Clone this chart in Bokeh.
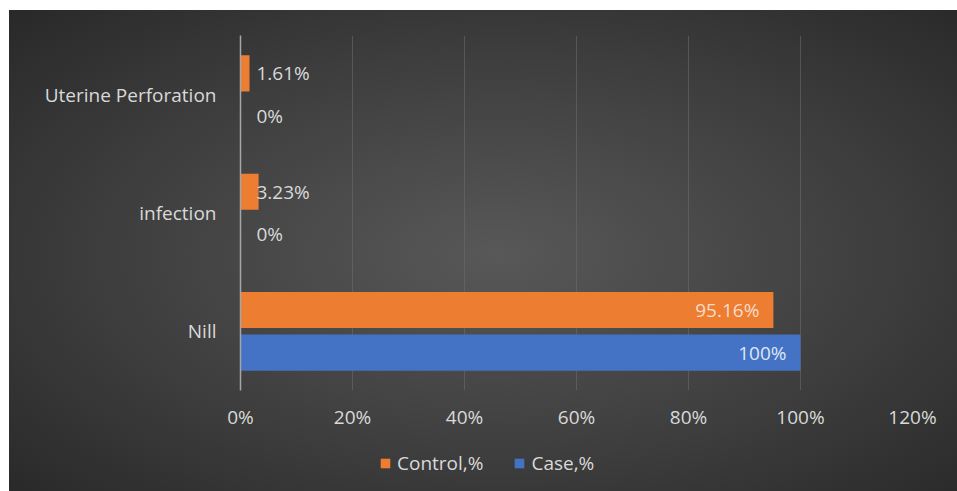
from bokeh.plotting import figure
from bokeh.layouts import column
from bokeh.models import (ColumnDataSource, FactorRange, FixedTicker, PrintfTickFormatter,
                          Legend, LegendItem, InlineStyleSheet, Range1d)
from bokeh.transform import dodge
from bokeh.core.properties import value
from bokeh.embed import file_html
from bokeh.resources import INLINE

categories = ["Nill", "infection", "Uterine Perforation"]
control_pct = [95.16, 3.23, 1.61]
case_pct = [100, 0, 0]
control_labels = ["95.16%", "3.23%", "1.61%"]
case_labels = ["100%", "0%", "0%"]
x_ticks = [0, 20, 40, 60, 80, 100, 120]
series_names = ["Control,%", "Case,%"]

FONT = "Open Sans"
FS = "19px"
TXT = "#d9d9d9"
ORANGE = "#ED7D31"
BLUE = "#4472C4"

css = InlineStyleSheet(css=(
    ":host { background:"
    " linear-gradient(#ffffff, #ffffff) left top / 100% 10px no-repeat,"
    " linear-gradient(#ffffff, #ffffff) left top / 9px 100% no-repeat,"
    " radial-gradient(ellipse at 52% 52%, #585858 0%, #3e3e3e 55%, #272727 100%); }"))

p = figure(width=957, height=445, y_range=FactorRange(factors=categories), x_range=(0, 120),
           output_backend="svg", toolbar_location=None,
           min_border_left=240, min_border_right=45, min_border_top=35, min_border_bottom=55,
           border_fill_color=None, background_fill_color=None, outline_line_color=None)

def label_cols(vals, inside_color):
    xs, aligns, offs, cols = [], [], [], []
    for v in vals:
        if v > 50:
            xs.append(v); aligns.append("right"); offs.append(-14); cols.append(inside_color)
        else:
            xs.append(0); aligns.append("left"); offs.append(16); cols.append(TXT)
    return xs, aligns, offs, cols

cx, ca, co, cc = label_cols(control_pct, "#f8dcc9")
bx, ba, bo, bc = label_cols(case_pct, "#dfe7f6")
src_c = ColumnDataSource(dict(cat=categories, v=control_pct, lab=control_labels, lx=cx, al=ca, off=co, col=cc))
src_b = ColumnDataSource(dict(cat=categories, v=case_pct, lab=case_labels, lx=bx, al=ba, off=bo, col=bc))

H = 0.305
D = 0.18
r_c = p.hbar(y=dodge("cat", D, range=p.y_range), right="v", left=0, height=H, source=src_c,
             fill_color=ORANGE, line_color=None)
r_b = p.hbar(y=dodge("cat", -D, range=p.y_range), right="v", left=0, height=H, source=src_b,
             fill_color=BLUE, line_color=None)

for src, off in ((src_c, D), (src_b, -D)):
    p.text(x="lx", y=dodge("cat", off, range=p.y_range), text="lab", source=src,
           text_align="al", x_offset="off", text_baseline="middle", text_color="col",
           text_font=value(FONT), text_font_size=FS)

p.xaxis.ticker = FixedTicker(ticks=x_ticks)
p.xaxis.formatter = PrintfTickFormatter(format="%d%%")
p.xaxis.axis_line_color = None
p.xaxis.major_tick_line_color = None
p.xaxis.minor_tick_line_color = None
p.xaxis.major_label_text_color = TXT
p.xaxis.major_label_text_font = FONT
p.xaxis.major_label_text_font_size = FS
p.xaxis.major_label_standoff = 7

p.yaxis.axis_line_color = "#a6a6a6"
p.yaxis.axis_line_width = 1.5
p.yaxis.major_tick_line_color = None
p.yaxis.minor_tick_line_color = None
p.yaxis.major_label_text_color = TXT
p.yaxis.major_label_text_font = FONT
p.yaxis.major_label_text_font_size = FS
p.yaxis.major_label_standoff = 18

p.xgrid.ticker = FixedTicker(ticks=x_ticks)
p.xgrid.grid_line_color = "#6e6e6e"
p.xgrid.grid_line_alpha = 0.55
p.ygrid.grid_line_color = None

# legend strip below the chart (its frame is aligned with the chart's frame)
q = figure(width=957, height=46, x_range=Range1d(0, 1), y_range=Range1d(0, 1),
           output_backend="svg", toolbar_location=None,
           min_border_left=240, min_border_right=45, min_border_top=0, min_border_bottom=0,
           border_fill_color=None, background_fill_color=None, outline_line_color=None)
q.axis.visible = False
q.grid.visible = False
offscreen = dict(y=[-10], right=[-9])
l_c = q.hbar(y="y", right="right", left=-10, height=1, source=ColumnDataSource(offscreen),
             fill_color=ORANGE, line_color=None)
l_b = q.hbar(y="y", right="right", left=-10, height=1, source=ColumnDataSource(offscreen),
             fill_color=BLUE, line_color=None)
legend = Legend(items=[LegendItem(label=series_names[0], renderers=[l_c]),
                       LegendItem(label=series_names[1], renderers=[l_b])],
                orientation="horizontal", location=(139, 15),
                background_fill_alpha=0, border_line_alpha=0, padding=0, margin=0,
                spacing=30, glyph_width=12, glyph_height=12, label_standoff=6,
                label_text_color=TXT, label_text_font=FONT, label_text_font_size=FS)
q.add_layout(legend, "center")

layout = column(p, q, spacing=0, stylesheets=[css])
open("out.html", "w").write(file_html(layout, INLINE))
